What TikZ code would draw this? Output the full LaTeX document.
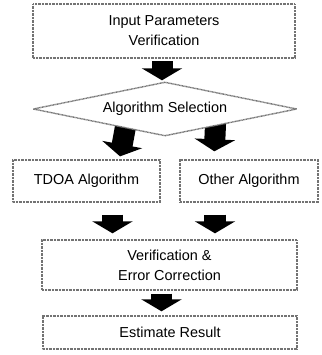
\documentclass[tikz,border=0pt]{standalone}
\usepackage{fontspec}
\setmainfont{Liberation Sans}
\usetikzlibrary{shapes,arrows.meta,backgrounds,calc}
\newcommand{\edgew}{1.4bp}
\newcommand{\shaftw}{21bp}

\begin{document}
\begin{tikzpicture}[x=1bp,y=-1bp]
            \tikzset{stage/.style = {draw=black!55, line width=\edgew, dash pattern=on 0.9bp off 0.5bp,
                fill=white, inner sep=0pt, align=center, font=\fontsize{14.5}{20}\selectfont}}
            \tikzset{choice/.style = {stage, diamond, aspect=4.9}}
            \tikzset{blockarrow/.style = {line width=\shaftw, -{Triangle[width=40bp,length=12bp]}}}
            \useasboundingbox (0,0) rectangle (322,355);
            \node[stage, minimum width=262bp, minimum height=54bp] (input) at (164,31) {Input Parameters\\Verification};
            \node[choice, minimum width=264bp, minimum height=54bp] (select) at (165,109) {Algorithm Selection};
            \node[stage, minimum width=147bp, minimum height=42bp] (tdoa) at (86.5,181) {TDOA Algorithm};
            \node[stage, minimum width=138bp, minimum height=42bp] (other) at (249,181) {Other Algorithm};
            \node[stage, minimum width=255bp, minimum height=50bp] (verify) at (169.5,265) {Verification \&\\Error Correction};
            \node[stage, minimum width=254bp, minimum height=33bp] (result) at (170,332.5) {Estimate Result};
            
            \coordinate (inputout) at ([xshift=-2bp]input.south);
            \coordinate (selleft) at ($(select.south)!0.3!(select.west)$);
            \coordinate (selright) at ($(select.south)!0.38!(select.east)$);
            \coordinate (tdoain) at ([xshift=33bp]tdoa.north);
            \coordinate (otherin) at ([xshift=-35bp]other.north);
            \coordinate (tdoaout) at ([xshift=26bp]tdoa.south);
            \coordinate (otherout) at ([xshift=-34bp]other.south);
            \coordinate (verifyout) at ([xshift=-8bp]verify.south);
            
            \begin{scope}[on background layer]
            \draw[blockarrow, shorten <=2.5bp, shorten >=1bp] (inputout) -- (inputout |- select.north);
            \draw[blockarrow, shorten <=-4bp, shorten >=3bp] (selleft) -- (tdoain);
            \draw[blockarrow, shorten <=-4bp, shorten >=8bp] (selright) -- (otherin);
            \draw[blockarrow, shorten <=12bp, shorten >=6bp] (tdoaout) -- (tdoaout |- verify.north);
            \draw[blockarrow, shorten <=12bp, shorten >=6bp] (otherout) -- (otherout |- verify.north);
            \draw[blockarrow, shorten <=3bp, shorten >=4bp] (verifyout) -- (verifyout |- result.north);
            \end{scope}
        \end{tikzpicture}
\end{document}
